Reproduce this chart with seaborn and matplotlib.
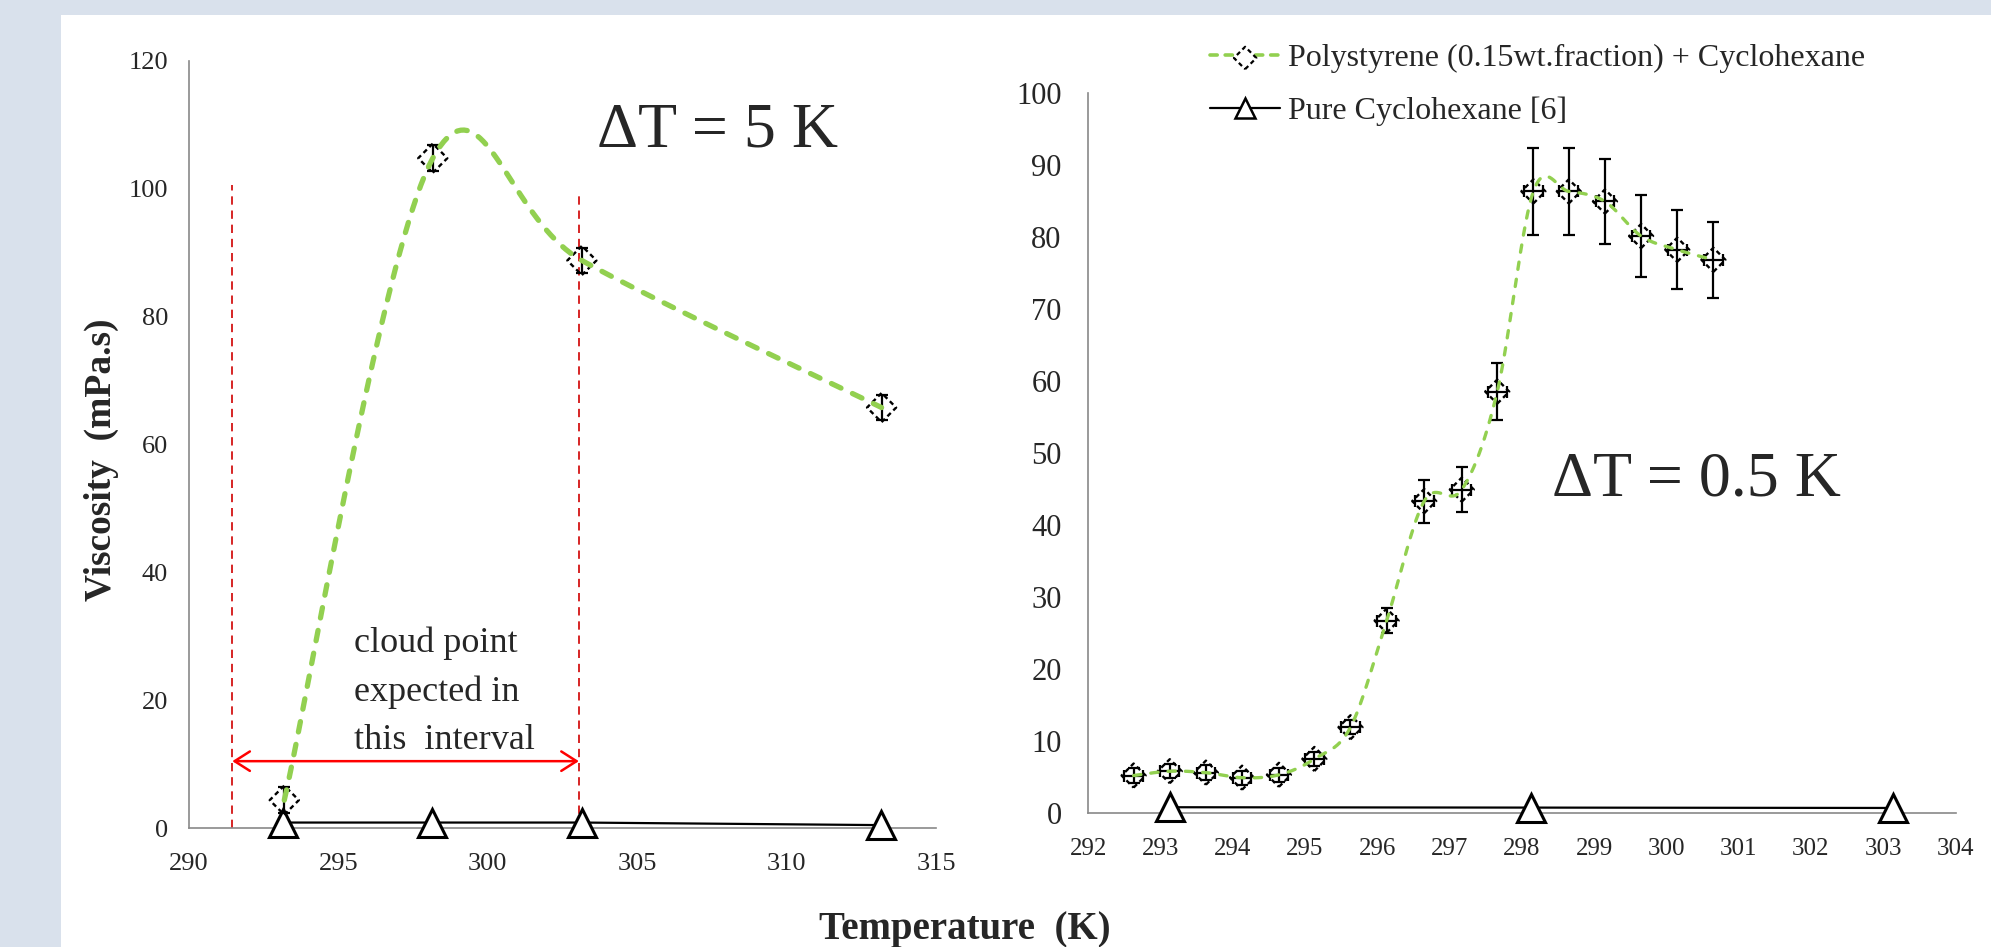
import numpy as np
import matplotlib
matplotlib.use('Agg')
import matplotlib.pyplot as plt
import seaborn as sns
from matplotlib.patches import Rectangle
from matplotlib.lines import Line2D

# left panel (dT = 5 K)
t5 = [293.19, 298.16, 303.15, 313.18]
visc5 = [4.4, 104.8, 88.8, 65.8]
err5 = [2.0, 2.0, 2.0, 2.0]
pure5_t = [293.15, 298.15, 303.15, 313.15]
pure5_v = [0.9, 0.9, 0.9, 0.5]

# right panel (dT = 0.5 K)
t05 = [292.63, 293.13, 293.63, 294.13, 294.64, 295.13, 295.63, 296.13, 296.65,
       297.17, 297.66, 298.16, 298.65, 299.15, 299.65, 300.15, 300.65]
visc05 = [5.2, 5.8, 5.6, 4.9, 5.3, 7.5, 11.9, 26.7, 43.3,
          44.9, 58.5, 86.3, 86.3, 84.9, 80.1, 78.2, 76.8]
yerr05 = [1.0, 1.0, 1.0, 1.0, 1.0, 1.0, 1.0, 1.7, 3.0,
          3.1, 4.0, 6.0, 6.0, 5.9, 5.7, 5.5, 5.3]
xerr05 = 0.13
pure05_t = [293.13, 298.13, 303.13]
pure05_v = [0.8, 0.75, 0.7]

cloud_lo, cloud_hi = 291.45, 303.05

GREEN = '#92d050'


def smooth(x, y, n=40):
    # excel-like smoothed line (catmull-rom bezier)
    P = np.column_stack([x, y]).astype(float)
    out = []
    for i in range(len(P) - 1):
        p0 = P[i - 1] if i > 0 else P[i]
        p1, p2 = P[i], P[i + 1]
        p3 = P[i + 2] if i + 2 < len(P) else P[i + 1]
        c1 = p1 + (p2 - p0) / 6
        c2 = p2 - (p3 - p1) / 6
        t = np.linspace(0, 1, n)[:, None]
        seg = (1 - t)**3 * p1 + 3 * (1 - t)**2 * t * c1 + 3 * (1 - t) * t**2 * c2 + t**3 * p2
        out.append(seg if i == 0 else seg[1:])
    s = np.vstack(out)
    return s[:, 0], s[:, 1]


sns.set_style('white')
plt.rcParams['font.family'] = ['Liberation Serif', 'DejaVu Serif']
plt.rcParams['axes.edgecolor'] = '#898989'
plt.rcParams['axes.linewidth'] = 1.2

fig = plt.figure(figsize=(19.91, 9.47), dpi=100)
fig.patch.set_facecolor('#d9e1ec')
fig.add_artist(Rectangle((61 / 1991, 0), 1, 1 - 15 / 947, transform=fig.transFigure,
                         facecolor='white', edgecolor='none', zorder=-5))

ax1 = fig.add_axes([0.0949, 0.12534, 0.3752, 0.81025])
ax2 = fig.add_axes([0.5465, 0.14150, 0.4357, 0.76061])

# ---------- left ----------
ax1.plot([cloud_lo, cloud_lo], [0, 100.6], color='#d00000', lw=1.2, ls=(0, (5, 3.5)))
ax1.plot([cloud_hi, cloud_hi], [0, 99.6], color='#d00000', lw=1.2, ls=(0, (5, 3.5)))
ax1.annotate('', xy=(cloud_hi, 10.5), xytext=(cloud_lo, 10.5),
             arrowprops=dict(arrowstyle='<->,head_length=0.55,head_width=0.35',
                             color='#ff0000', lw=1.8, shrinkA=0, shrinkB=0,
                             mutation_scale=20))

sns.lineplot(x=pure5_t, y=pure5_v, ax=ax1, color='black', lw=1.6, marker='^',
             markersize=20, markerfacecolor='white', markeredgecolor='black',
             markeredgewidth=2.2, estimator=None, sort=False, clip_on=False, zorder=3)
ax1.errorbar(t5, visc5, yerr=err5, fmt='none', ecolor='black', elinewidth=1.6,
             capsize=4, capthick=1.6, zorder=4)
sns.scatterplot(x=t5, y=visc5, ax=ax1, marker='D', s=220, facecolor='none',
                edgecolor='black', linewidth=1.7, linestyle=(0, (2, 1.5)), zorder=5)
sx, sy = smooth(t5, visc5)
ax1.plot(sx, sy, color=GREEN, lw=3.8, dashes=(2.0, 2.4), dash_capstyle='round', zorder=6)

ax1.text(303.65, 109, 'ΔT = 5 K', fontsize=46, va='center', ha='left')
ax1.text(295.52, 21.3, 'cloud point\nexpected in\nthis  interval', fontsize=26,
         va='center', ha='left', linespacing=1.6)

ax1.set_xlim(290, 315)
ax1.set_ylim(0, 120)
ax1.set_xticks(range(290, 316, 5))
ax1.set_yticks(range(0, 121, 20))
ax1.tick_params(axis='both', length=0, labelsize=19)
ax1.tick_params(axis='y', pad=15)
ax1.tick_params(axis='x', pad=18)

# ---------- right ----------
sns.lineplot(x=pure05_t, y=pure05_v, ax=ax2, color='black', lw=1.6, marker='^',
             markersize=20, markerfacecolor='white', markeredgecolor='black',
             markeredgewidth=2.2, estimator=None, sort=False, clip_on=False, zorder=3)
ax2.errorbar(t05, visc05, yerr=yerr05, xerr=xerr05, fmt='none', ecolor='black',
             elinewidth=1.6, capsize=4, capthick=1.6, zorder=4)
sns.scatterplot(x=t05, y=visc05, ax=ax2, marker='D', s=150, facecolor='none',
                edgecolor='black', linewidth=1.7, linestyle=(0, (2, 1.5)), zorder=5)
sx, sy = smooth(t05, visc05)
ax2.plot(sx, sy, color=GREEN, lw=2.4, dashes=(2.2, 3.0), dash_capstyle='round', zorder=6)

ax2.text(298.42, 46.2, 'ΔT = 0.5 K', fontsize=46, va='center', ha='left')

ax2.set_xlim(292, 304)
ax2.set_ylim(0, 100)
ax2.set_xticks(range(292, 305))
ax2.set_yticks(range(0, 101, 10))
ax2.tick_params(axis='both', length=0)
ax2.tick_params(axis='y', pad=19, labelsize=22)
ax2.tick_params(axis='x', pad=18, labelsize=18)

for ax in (ax1, ax2):
    sns.despine(ax=ax)
    ax.set_facecolor('white')

# legend
h_line = Line2D([], [], color=GREEN, lw=2.6, dashes=(2.0, 2.2), dash_capstyle='round')
h_dia = ax2.scatter([], [], marker='D', s=130, facecolor='white', edgecolor='black',
                    linewidth=1.6, linestyle=(0, (2, 1.5)))
h_tri = Line2D([], [], color='black', lw=1.6, marker='^', markersize=14,
               markerfacecolor='white', markeredgecolor='black', markeredgewidth=1.8)
fig.legend(handles=[(h_line, h_dia), h_tri],
           labels=['Polystyrene (0.15wt.fraction) + Cyclohexane', 'Pure Cyclohexane [6]'],
           loc='upper left', bbox_to_anchor=(1210 / 1991, 1 - 44 / 947), frameon=False,
           fontsize=23, handlelength=2.2, handletextpad=0.25, labelspacing=0.72,
           borderpad=0, borderaxespad=0, scatterpoints=1)

fig.text(101.6 / 1991, 0.515, 'Viscosity  (mPa.s)', rotation=90, fontsize=27,
         fontweight='bold', ha='center', va='center')
fig.text(0.4847, 0.0185, 'Temperature  (K)', fontsize=28, fontweight='bold',
         ha='center', va='center')

fig.savefig('out.png', dpi=100, facecolor=fig.get_facecolor())
